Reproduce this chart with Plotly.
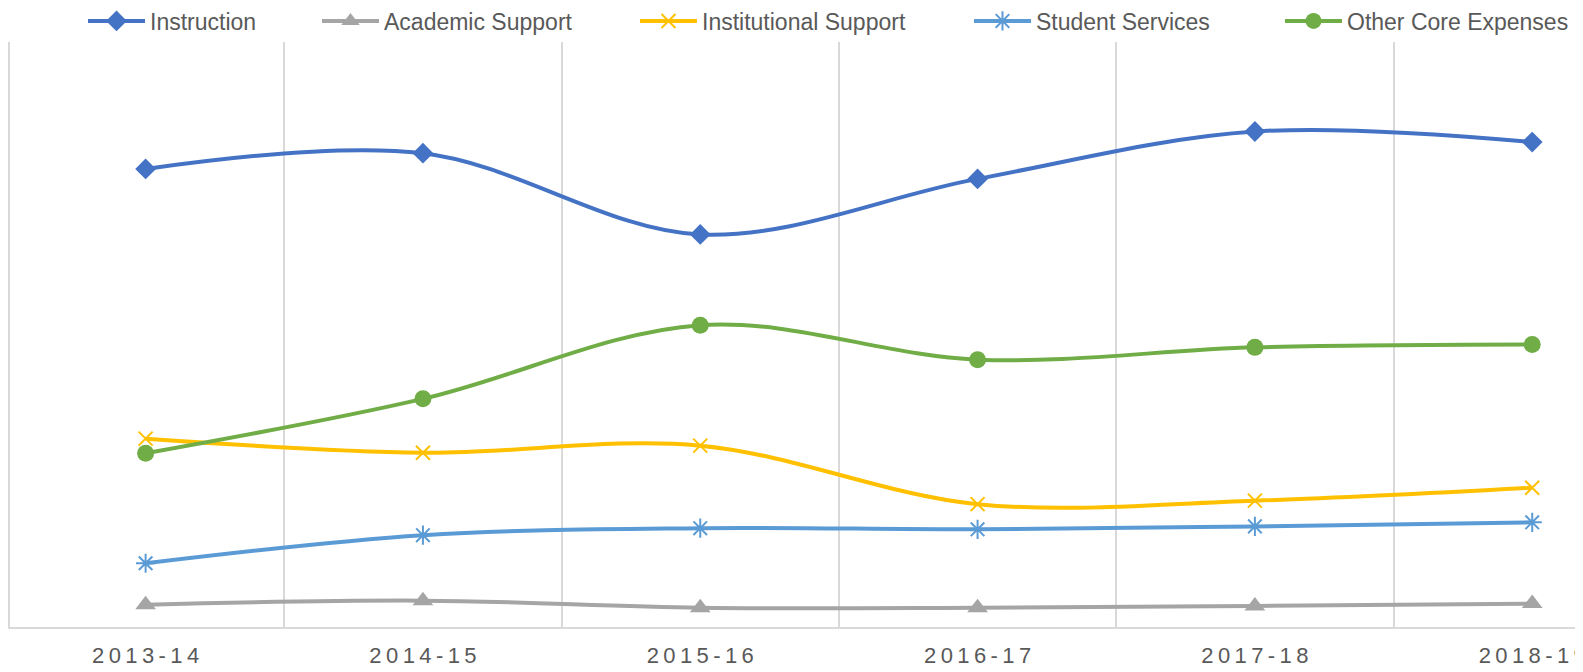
import plotly.graph_objects as go

categories = ["2013-14", "2014-15", "2015-16", "2016-17", "2017-18", "2018-19"]

instruction = [78.3, 81.0, 67.1, 76.6, 84.7, 82.9]
academic_support = [3.8, 4.5, 3.3, 3.3, 3.6, 4.0]
institutional_support = [32.2, 29.8, 31.0, 21.0, 21.6, 23.8]
student_services = [10.9, 15.7, 16.9, 16.7, 17.2, 17.9]
other_core = [29.7, 39.0, 51.6, 45.7, 47.8, 48.3]

series = [
    ("Instruction", instruction, "#4472C4", "diamond", 16, 0),
    ("Academic Support", academic_support, "#A5A5A5", "triangle-up", 18, 0),
    ("Institutional Support", institutional_support, "#FFC000", "x-thin-open", 14, 2),
    ("Student Services", student_services, "#5B9BD5", "asterisk-open", 16, 2),
    ("Other Core Expenses", other_core, "#70AD47", "circle", 17, 0),
]

# legend text start positions (pixels on the page)
legend_text_x = [150, 384, 702, 1036, 1347]

W, H = 1583, 672
FONT = "Liberation Sans, Arial, sans-serif"
ITEMW = 57
THIN = "\u2009"

fig = go.Figure()
layout_legends = {}
for i, (name, vals, color, sym, size, lw) in enumerate(series):
    lg = "legend" if i == 0 else f"legend{i+1}"
    fig.add_trace(go.Scatter(
        x=categories, y=vals, name=name, mode="lines+markers",
        line=dict(color=color, width=4, shape="spline", smoothing=1.0),
        marker=dict(symbol=sym, size=size, color=color, line=dict(color=color, width=lw)),
        legend=lg,
    ))
    layout_legends[lg] = dict(
        xref="container", yref="container",
        x=(legend_text_x[i] - 75) / W, xanchor="left",
        y=1 - 13 / H, yanchor="middle",
        orientation="h", itemwidth=ITEMW,
        font=dict(family=FONT, size=23, color="#595959"),
        bgcolor="rgba(0,0,0,0)", borderwidth=0,
    )

fig.update_layout(
    width=W, height=H,
    margin=dict(l=2, r=0, t=34, b=53, autoexpand=False),
    paper_bgcolor="white", plot_bgcolor="white",
    showlegend=True,
    font=dict(family=FONT, color="#595959"),
    **layout_legends,
)

fig.update_xaxes(
    type="category",
    tickmode="array", tickvals=categories,
    ticktext=[THIN.join(c) for c in categories],
    range=[-0.489, 5.212],
    tickson="boundaries", showgrid=True, gridcolor="#D9D9D9", gridwidth=1.5,
    showline=True, linecolor="#D9D9D9", linewidth=1.5,
    ticks="", tickfont=dict(family=FONT, size=22, color="#595959"),
    ticklabeloverflow="allow", ticklabelstandoff=8, automargin=False,
    zeroline=False,
)
fig.update_yaxes(
    range=[0, 100], showgrid=False, showticklabels=False, zeroline=False,
    showline=True, linecolor="#D9D9D9", linewidth=1.5, ticks="", automargin=False,
)

fig.write_html("out.html")
